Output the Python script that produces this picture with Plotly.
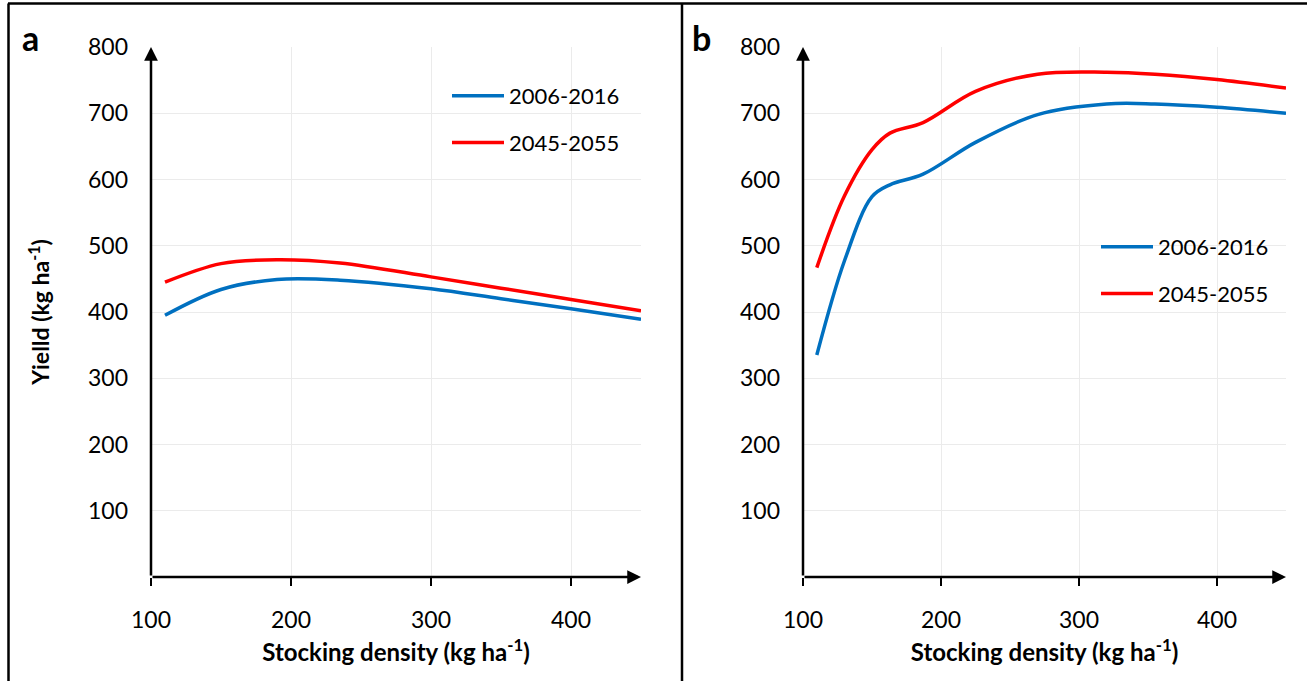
import plotly.graph_objects as go

# ---------------- data ----------------
x_a = [110, 150, 190, 235, 300, 350, 400, 450]
a_2006_2016 = [395, 434, 449, 448, 435, 420, 405, 389]
a_2045_2055 = [445, 473, 479, 474, 453, 436, 419, 402]

x_b = [110, 130, 150, 163, 187, 225, 270, 320, 355, 400, 450]
b_2006_2016 = [335, 477, 574, 592, 608, 656, 698, 714, 714, 709, 700]
b_2045_2055 = [467, 575, 645, 670, 686, 733, 759, 762, 759, 751, 738]

series_names = ["2006-2016", "2045-2055"]
x_ticks = [100, 200, 300, 400]
y_ticks = [100, 200, 300, 400, 500, 600, 700, 800]
x_title = "Stocking density (kg ha<sup>-1</sup>)"
y_title = "Yielld (kg ha<sup>-1</sup>)"
panel_labels = ["a", "b"]

BLUE = "#0070C0"
RED = "#FF0000"
FONT = "Lato"
W, H = 1307, 681

def px(xp):
    return xp / W

def py(yp):
    return (H - yp) / H

fig = go.Figure()

fig.add_trace(go.Scatter(x=x_a, y=a_2006_2016, name=series_names[0], mode="lines",
                         line=dict(color=BLUE, width=3.5, shape="spline"),
                         xaxis="x", yaxis="y", legend="legend", legendgroup="a1"))
fig.add_trace(go.Scatter(x=x_a, y=a_2045_2055, name=series_names[1], mode="lines",
                         line=dict(color=RED, width=3.5, shape="spline"),
                         xaxis="x", yaxis="y", legend="legend", legendgroup="a2"))
fig.add_trace(go.Scatter(x=x_b, y=b_2006_2016, name=series_names[0], mode="lines",
                         line=dict(color=BLUE, width=3.5, shape="spline"),
                         xaxis="x2", yaxis="y2", legend="legend2", legendgroup="b1"))
fig.add_trace(go.Scatter(x=x_b, y=b_2045_2055, name=series_names[1], mode="lines",
                         line=dict(color=RED, width=3.5, shape="spline"),
                         xaxis="x2", yaxis="y2", legend="legend2", legendgroup="b2"))

xaxis_common = dict(range=[100, 450], tickvals=x_ticks, showgrid=True, gridcolor="#ebebeb",
                    gridwidth=1, zeroline=False, showline=False, ticks="outside", ticklen=8,
                    tickwidth=2, tickcolor="black", ticklabelstandoff=14, automargin=False,
                    tickfont=dict(family=FONT, size=23, color="black"),
                    title=dict(text=x_title, font=dict(family=FONT, size=24, color="black",
                                                       weight="bold"), standoff=12))
yaxis_common = dict(range=[0, 800], tickvals=y_ticks, showgrid=True, gridcolor="#ebebeb",
                    gridwidth=1, zeroline=False, showline=False, ticks="",
                    ticklabelstandoff=22, automargin=False,
                    tickfont=dict(family=FONT, size=23, color="black"),
                    domain=[py(577), py(47)])

fig.update_layout(
    width=W, height=H,
    margin=dict(l=0, r=0, t=0, b=0, autoexpand=False),
    paper_bgcolor="white", plot_bgcolor="white",
    font=dict(family=FONT, color="black"),
    xaxis=dict(domain=[px(151), px(641)], anchor="y", **xaxis_common),
    yaxis=dict(anchor="x", **yaxis_common,
               title=dict(text=y_title, font=dict(family=FONT, size=23, color="black",
                                                  weight="bold"), standoff=31)),
    xaxis2=dict(domain=[px(803), px(1286)], anchor="y2", **xaxis_common),
    yaxis2=dict(anchor="x2", **yaxis_common),
    legend=dict(x=px(447), y=py(75), xanchor="left", yanchor="top",
                bgcolor="rgba(0,0,0,0)", traceorder="grouped", tracegroupgap=15,
                font=dict(family=FONT, size=22, color="black"), itemwidth=52),
    legend2=dict(x=px(1096), y=py(226), xanchor="left", yanchor="top",
                 bgcolor="rgba(0,0,0,0)", traceorder="grouped", tracegroupgap=15,
                 font=dict(family=FONT, size=22, color="black"), itemwidth=52),
    showlegend=True,
)

shapes = [
    # legend backgrounds hiding the gridlines (Excel style)
    dict(type="rect", xref="paper", yref="paper", x0=px(408), x1=px(642), y0=py(166), y1=py(74),
         fillcolor="white", line=dict(width=0), layer="between"),
    dict(type="rect", xref="paper", yref="paper", x0=px(1061), x1=px(1287), y0=py(319), y1=py(223),
         fillcolor="white", line=dict(width=0), layer="between"),
    # outer frame
    dict(type="line", xref="paper", yref="paper", x0=px(8), x1=1, y0=py(3.5), y1=py(3.5),
         line=dict(color="black", width=2.5)),
    dict(type="line", xref="paper", yref="paper", x0=px(8.5), x1=px(8.5), y0=0, y1=py(3.5),
         line=dict(color="black", width=2.5)),
    dict(type="line", xref="paper", yref="paper", x0=px(682), x1=px(682), y0=0, y1=py(3.5),
         line=dict(color="black", width=2.5)),
]
fig.update_layout(shapes=shapes)

annotations = []
for xr, yr in (("x", "y"), ("x2", "y2")):
    # x axis with arrow
    annotations.append(dict(x=450, y=0, ax=100, ay=0, xref=xr, yref=yr, axref=xr, ayref=yr,
                            showarrow=True, arrowhead=2, arrowsize=1.1, arrowwidth=2.5,
                            arrowcolor="black", text="", standoff=0))
    # y axis with arrow
    annotations.append(dict(x=100, y=800, ax=100, ay=0, xref=xr, yref=yr, axref=xr, ayref=yr,
                            showarrow=True, arrowhead=2, arrowsize=1.1, arrowwidth=2.5,
                            arrowcolor="black", text="", standoff=0))
for lbl, xpos in zip(panel_labels, (30, 701)):
    annotations.append(dict(x=px(xpos), y=py(38), xref="paper", yref="paper",
                            xanchor="center", yanchor="middle", text=f"<b>{lbl}</b>",
                            showarrow=False, font=dict(family=FONT, size=34, color="black")))
fig.update_layout(annotations=annotations)

fig.write_html("out.html")
